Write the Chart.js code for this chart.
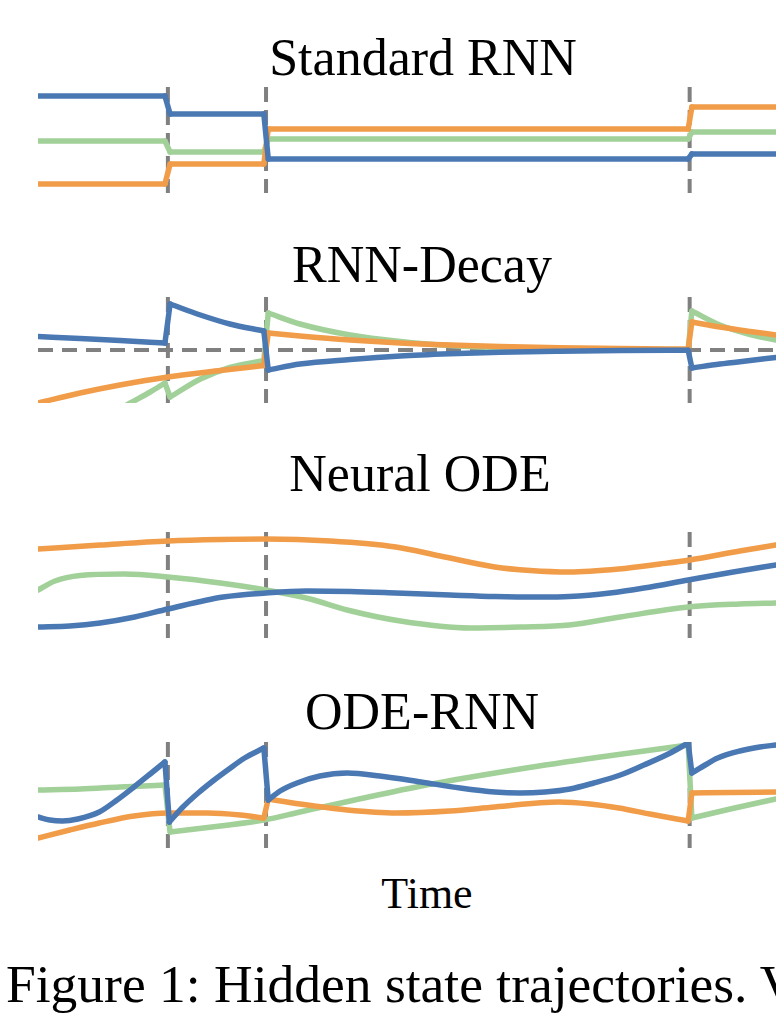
<!DOCTYPE html>
<html><head><meta charset="utf-8">
<script src="https://cdn.jsdelivr.net/npm/chart.js@4.4.1/dist/chart.umd.min.js"></script>
<style>
html,body{margin:0;padding:0;background:#fff;}
body{width:776px;height:1022px;position:relative;overflow:hidden;font-family:"Liberation Serif","Times New Roman",serif;color:#000;}
.t{position:absolute;white-space:nowrap;line-height:1;transform:translateX(-50%);font-size:52px;}
.p{position:absolute;left:38px;width:738px;height:106px;}
canvas{display:block;}
</style></head><body>
<div class="t" id="t0" style="left:423px;top:32px;"></div>
<div class="p" style="top:87px;"><canvas id="c0" width="738" height="106"></canvas></div>
<div class="t" id="t1" style="left:422px;top:239px;"></div>
<div class="p" style="top:297px;"><canvas id="c1" width="738" height="106"></canvas></div>
<div class="t" id="t2" style="left:420px;top:448px;"></div>
<div class="p" style="top:532px;"><canvas id="c2" width="738" height="106"></canvas></div>
<div class="t" id="t3" style="left:422px;top:686px;"></div>
<div class="p" style="top:742px;"><canvas id="c3" width="738" height="106"></canvas></div>
<div class="t" id="xl" style="left:427px;top:872px;font-size:44px;"></div>
<div id="cap" style="position:absolute;left:6px;top:958px;font-size:53.5px;line-height:1;white-space:nowrap;"></div>
<script>
// ---- text ----
const PANEL_TITLES = ["Standard RNN", "RNN-Decay", "Neural ODE", "ODE-RNN"];
const X_LABEL = "Time";
const CAPTION = "Figure 1: Hidden state trajectories. V";

// ---- time axis & observation times ----
const T_RANGE = [0, 100];
const Y_RANGE = [-5.3, 5.3];
const OBS_TIMES = [17.6, 30.9, 88.3];

// Each series is a list of pieces [time, hidden state]; a jump joins the end of one piece to the start of the next.

// ---- Standard RNN ----
const stdBlue   = [[[0,4.4],[17.2,4.4]], [[17.9,2.6],[30.6,2.6]], [[31.2,-1.9],[88.1,-1.9]], [[88.6,-1.4],[100,-1.4]]];
const stdOrange = [[[0,-4.4],[17.2,-4.4]], [[17.9,-2.4],[30.6,-2.4]], [[31.2,1.1],[88.1,1.1]], [[88.6,3.3],[100,3.3]]];
const stdGreen  = [[[0,-0.1],[17.2,-0.1]], [[17.9,-1.2],[30.6,-1.2]], [[31.2,0.1],[88.1,0.1]], [[88.6,0.8],[100,0.8]]];

// ---- RNN-Decay ----
const decBlue   = [[[0,1.35],[5.7,1.15],[11.1,0.95],[17.2,0.7]],
                   [[17.9,4.6],[22.0,3.5],[26.0,2.6],[30.6,1.9]],
                   [[31.2,-2.0],[35.5,-1.4],[42.3,-0.95],[49.1,-0.6],[55.8,-0.38],[62.6,-0.22],[70.7,-0.12],[78.9,-0.06],[88.1,-0.03]],
                   [[88.6,-1.8],[92.4,-1.4],[96.5,-1.05],[100,-0.75]]];
const decOrange = [[[0,-5.3],[5.7,-4.3],[11.1,-3.5],[17.6,-2.7],[24.7,-2.05],[30.6,-1.55]],
                   [[31.2,1.7],[35.5,1.4],[42.3,1.0],[49.1,0.7],[55.8,0.5],[62.6,0.35],[70.7,0.22],[78.9,0.14],[88.1,0.1]],
                   [[88.6,2.8],[92.4,2.3],[96.5,1.85],[100,1.5]]];
const decGreen  = [[[8.4,-7.0],[12.5,-5.3],[15.2,-4.2],[17.2,-3.3]],
                   [[17.9,-4.7],[22.0,-2.9],[26.0,-1.75],[30.6,-1.05]],
                   [[31.2,3.7],[35.5,2.6],[42.3,1.5],[49.1,0.85],[55.8,0.45],[62.6,0.25],[70.7,0.12],[78.9,0.06],[88.1,0.03]],
                   [[88.6,3.9],[92.4,2.5],[96.5,1.55],[100,1.0]]];

// ---- Neural ODE ----
const odeBlue   = [[[0,-4.2],[4.3,-4.1],[8.4,-3.8],[13.1,-3.2],[17.6,-2.4],[25.1,-1.2],[30.9,-0.8],[36.4,-0.6],[42.3,-0.65],[48.5,-0.8],[55.8,-1.0],[61.9,-1.15],[68.0,-1.2],[72.0,-1.15],[77.5,-0.8],[82.1,-0.3],[88.1,0.5],[94.2,1.3],[100,2.0]]];
const odeOrange = [[[0,3.6],[8.4,4.0],[17.6,4.4],[24.7,4.55],[30.9,4.6],[39.6,4.4],[48.5,3.8],[54.5,2.9],[61.9,1.8],[66.7,1.45],[72.0,1.3],[78.7,1.6],[84.3,2.1],[88.3,2.5],[95.1,3.4],[100,4.0]]];
const odeGreen  = [[[0,-0.5],[2.3,0.4],[5.7,0.95],[11.7,1.1],[17.6,0.8],[24.7,0.2],[30.9,-0.5],[36.9,-1.4],[41.9,-2.5],[49.1,-3.6],[58.5,-4.3],[65.3,-4.2],[72.0,-4.0],[78.9,-3.2],[88.1,-2.2],[95.1,-1.9],[100,-1.8]]];

// ---- ODE-RNN ----
const ornBlue   = [[[0,-2.2],[1.6,-2.5],[3.3,-2.6],[5.4,-2.4],[8.3,-1.7],[10.7,-0.5],[13.0,0.8],[15.2,2.1],[17.2,3.3]],
                   [[17.8,-2.7],[19.5,-1.3],[21.7,0.2],[23.7,1.4],[25.7,2.5],[28.0,3.7],[30.6,4.7]],
                   [[31.2,-0.5],[32.8,0.4],[35.1,1.2],[38.2,1.9],[41.9,2.2],[46.3,1.9],[51.9,1.3],[57.2,0.7],[61.9,0.3],[65.3,0.2],[68.7,0.3],[72.1,0.6],[75.3,1.2],[78.9,2.0],[82.1,3.0],[85.4,4.1],[88.1,5.2]],
                   [[88.6,2.2],[90.4,3.0],[92.1,3.7],[95.1,4.4],[97.8,4.8],[100,5.0]]];
const ornOrange = [[[0,-4.3],[4.3,-3.5],[8.3,-2.8],[13.0,-2.1],[17.6,-1.8],[23.0,-1.8],[27.4,-2.0],[30.6,-2.3]],
                   [[31.2,-0.4],[35.5,-0.9],[41.9,-1.5],[48.5,-1.8],[55.8,-1.6],[61.9,-1.2],[70.6,-0.7],[74.8,-0.9],[78.7,-1.3],[82.9,-1.9],[88.1,-2.6]],
                   [[88.6,0.2],[93.8,0.25],[100,0.3]]];
const ornGreen  = [[[0,0.5],[5.7,0.6],[11.1,0.8],[17.2,1.0]],
                   [[17.9,-3.7],[24.7,-3.1],[30.6,-2.5],[35.5,-1.7],[42.3,-0.6],[52.6,1.0],[65.3,2.6],[76.2,3.8],[88.1,5.0]],
                   [[88.6,-2.3],[93.8,-1.4],[100,-0.4]]];

// ---- styles ----
const BLUE = '#4a78b3';
const ORANGE = '#f19c48';
const GREEN = '#a1d099';
const GREY = '#808080';

document.getElementById('t0').textContent = PANEL_TITLES[0];
document.getElementById('t1').textContent = PANEL_TITLES[1];
document.getElementById('t2').textContent = PANEL_TITLES[2];
document.getElementById('t3').textContent = PANEL_TITLES[3];
document.getElementById('xl').textContent = X_LABEL;
document.getElementById('cap').textContent = CAPTION;

const toXY = arr => arr.map(p => ({x: p[0], y: p[1]}));
const LW = 5.5;

function seriesDatasets(pieces, color, order, smooth) {
  const out = [];
  pieces.forEach((piece, i) => {
    out.push({
      data: toXY(piece), borderColor: color, borderWidth: LW, order: order,
      tension: smooth ? 0.4 : 0, cubicInterpolationMode: smooth ? 'monotone' : 'default',
      borderJoinStyle: 'round', borderCapStyle: 'round', pointRadius: 0, fill: false
    });
    if (i < pieces.length - 1) {
      const a = piece[piece.length - 1], b = pieces[i + 1][0];
      out.push({
        data: toXY([a, b]), borderColor: color, borderWidth: LW, order: order,
        tension: 0, borderCapStyle: 'round', pointRadius: 0, fill: false
      });
    }
  });
  return out;
}

function buildPanel(id, blue, orange, green, smooth, zeroLine) {
  const datasets = [
    ...seriesDatasets(blue, BLUE, 1, smooth),
    ...seriesDatasets(orange, ORANGE, 2, smooth),
    ...seriesDatasets(green, GREEN, 3, smooth)
  ];
  OBS_TIMES.forEach(t => datasets.push({
    data: [{x: t, y: Y_RANGE[1]}, {x: t, y: Y_RANGE[0]}],
    borderColor: GREY, borderWidth: 4, borderDash: [15, 8], order: 10,
    pointRadius: 0, tension: 0, borderCapStyle: 'butt', fill: false
  }));
  if (zeroLine) datasets.push({
    data: [{x: T_RANGE[0], y: 0}, {x: T_RANGE[1], y: 0}],
    borderColor: GREY, borderWidth: 4, borderDash: [15, 9], order: 9,
    pointRadius: 0, tension: 0, borderCapStyle: 'butt', fill: false
  });
  new Chart(document.getElementById(id), {
    type: 'line',
    data: {datasets},
    options: {
      responsive: false, maintainAspectRatio: false, animation: false,
      devicePixelRatio: 1, events: [],
      layout: {padding: 0},
      plugins: {legend: {display: false}, tooltip: {enabled: false}, title: {display: false}},
      scales: {
        x: {type: 'linear', min: T_RANGE[0], max: T_RANGE[1], display: false},
        y: {type: 'linear', min: Y_RANGE[0], max: Y_RANGE[1], display: false}
      }
    }
  });
}

buildPanel('c0', stdBlue, stdOrange, stdGreen, false, false);
buildPanel('c1', decBlue, decOrange, decGreen, true, true);
buildPanel('c2', odeBlue, odeOrange, odeGreen, true, false);
buildPanel('c3', ornBlue, ornOrange, ornGreen, true, false);
</script>
</body></html>
